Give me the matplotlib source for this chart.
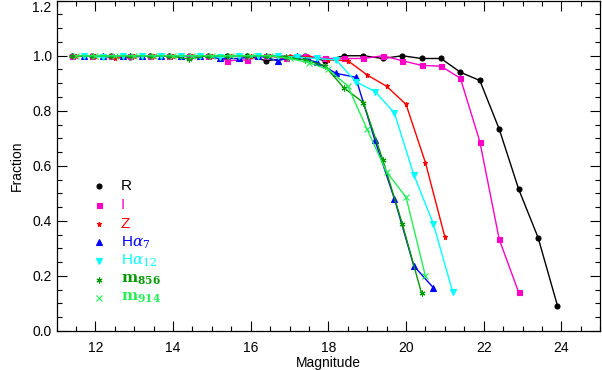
import matplotlib
matplotlib.use('Agg')
import matplotlib.pyplot as plt
from matplotlib.ticker import MultipleLocator, FormatStrFormatter

plt.rcParams['font.family'] = ['Liberation Sans', 'DejaVu Sans']
plt.rcParams['mathtext.fontset'] = 'dejavuserif'

# 数据
x_R = [11.4, 11.9, 12.4, 12.9, 13.4, 13.9, 14.4, 14.9, 15.4, 15.9, 16.4, 16.9, 17.4,
       17.9, 18.4, 18.9, 19.4, 19.9, 20.4, 20.9, 21.4, 21.9, 22.4, 22.9, 23.4, 23.9]
y_R = [1.0, 1.0, 1.0, 0.995, 1.0, 1.0, 1.0, 1.0, 1.0, 1.0, 0.982, 0.99, 1.0,
       0.982, 1.0, 1.0, 0.99, 1.0, 0.99, 0.99, 0.94, 0.91, 0.733, 0.515, 0.339, 0.091]

x_I = [11.4, 11.9, 12.4, 12.9, 13.4, 13.9, 14.4, 14.9, 15.4, 15.9, 16.4, 16.9, 17.4,
       17.9, 18.4, 18.9, 19.4, 19.9, 20.4, 20.9, 21.4, 21.9, 22.4, 22.9]
y_I = [1.0, 1.0, 1.0, 1.0, 1.0, 1.0, 1.0, 1.0, 0.982, 0.985, 1.0, 0.99, 1.0,
       0.99, 0.99, 0.99, 1.0, 0.982, 0.965, 0.962, 0.918, 0.688, 0.332, 0.140]

x_Z = [11.5, 12.0, 12.5, 13.0, 13.5, 14.0, 14.5, 15.0, 15.5, 16.0, 16.5, 17.0, 17.5,
       18.0, 18.5, 19.0, 19.5, 20.0, 20.5, 21.0]
y_Z = [1.0, 1.0, 0.99, 1.0, 1.0, 1.0, 1.0, 1.0, 1.0, 1.0, 1.0, 1.0, 0.995,
       0.985, 0.982, 0.93, 0.889, 0.823, 0.611, 0.341]

x_Ha7 = [11.7, 12.2, 12.7, 13.2, 13.7, 14.2, 14.7, 15.2, 15.7, 16.2, 16.7, 17.2, 17.7,
         18.2, 18.7, 19.2, 19.7, 20.2, 20.7]
y_Ha7 = [1.0, 1.0, 1.0, 1.0, 1.0, 1.0, 1.0, 0.99, 0.99, 1.0, 0.982, 1.0, 0.976,
         0.936, 0.922, 0.692, 0.480, 0.236, 0.157]

x_Ha12 = [11.7, 12.2, 12.7, 13.2, 13.7, 14.2, 14.7, 15.2, 15.7, 16.2, 16.7, 17.2, 17.7,
          18.2, 18.7, 19.2, 19.7, 20.2, 20.7, 21.2]
y_Ha12 = [1.0, 0.995, 1.0, 1.0, 1.0, 1.0, 1.0, 0.995, 1.0, 1.0, 1.0, 0.995, 0.99,
          0.985, 0.906, 0.870, 0.792, 0.567, 0.390, 0.142]

x_m856 = [11.4, 11.9, 12.4, 12.9, 13.4, 13.9, 14.4, 14.9, 15.4, 15.9, 16.4, 16.9, 17.4,
          17.9, 18.4, 18.9, 19.4, 19.9, 20.4]
y_m856 = [1.0, 1.0, 1.0, 1.0, 1.0, 1.0, 0.988, 1.0, 1.0, 1.0, 1.0, 0.995, 0.985,
          0.964, 0.883, 0.830, 0.622, 0.390, 0.136]

x_m914 = [11.5, 12.0, 12.5, 13.0, 13.5, 14.0, 14.5, 15.0, 15.5, 16.0, 16.5, 17.0, 17.5,
          18.0, 18.5, 19.0, 19.5, 20.0, 20.5]
y_m914 = [1.0, 1.0, 1.0, 1.0, 1.0, 1.0, 1.0, 1.0, 1.0, 1.0, 1.0, 0.99, 0.975,
          0.95, 0.89, 0.732, 0.577, 0.486, 0.198]

labels = ['R', 'I', 'Z', r'H$\alpha_{7}$', r'H$\alpha_{12}$',
          r'$\mathbf{m_{856}}$', r'$\mathbf{m_{914}}$']
colors = ['black', '#FF00C8', '#FF0000', '#0000FF', '#00FFFF', '#009900', '#22EE55']
markers = ['o', 's', '*', '^', 'v', (6, 2, 0), 'x']
msizes = [3.6, 3.6, 3.6, 3.8, 3.8, 4.2, 4.0]

xs = [x_R, x_I, x_Z, x_Ha7, x_Ha12, x_m856, x_m914]
ys = [y_R, y_I, y_Z, y_Ha7, y_Ha12, y_m856, y_m914]

fig = plt.figure(figsize=(6.02, 3.70), dpi=100)
ax = fig.add_axes([0.094, 0.106, 0.903, 0.892])

for x, y, c, m, s in zip(xs, ys, colors, markers, msizes):
    ax.plot(x, y, color=c, marker=m, markersize=s, linewidth=1.0,
            markeredgewidth=0.8)

# 图例 (手动放置)
for i, (lab, c, m, s) in enumerate(zip(labels, colors, markers, msizes)):
    yy = 0.4375 - i * 0.0565
    ax.plot([0.078], [yy], transform=ax.transAxes, color=c, marker=m,
            markersize=s, markeredgewidth=0.8, linestyle='none')
    ax.text(0.118, yy, lab, transform=ax.transAxes, color=c, fontsize=11,
            va='center', ha='left')

ax.set_xlim(11, 25)
ax.set_ylim(0, 1.2)
ax.xaxis.set_major_locator(MultipleLocator(2))
ax.xaxis.set_minor_locator(MultipleLocator(0.5))
ax.yaxis.set_major_locator(MultipleLocator(0.2))
ax.yaxis.set_minor_locator(MultipleLocator(0.05))
ax.yaxis.set_major_formatter(FormatStrFormatter('%.1f'))

ax.tick_params(which='both', direction='in', top=True, right=True, width=0.8,
               labelsize=10)
ax.tick_params(which='major', length=7)
ax.tick_params(which='minor', length=3.5)
ax.tick_params(axis='x', which='major', pad=7)
for sp in ax.spines.values():
    sp.set_linewidth(0.9)

ax.set_xlabel('Magnitude', fontsize=10, labelpad=1)
ax.set_ylabel('Fraction', fontsize=10, labelpad=6)

# 顶部 "1.2" 标签往下放, 避免被裁切
fig.canvas.draw()
for t in ax.yaxis.get_major_ticks():
    if abs(t.get_loc() - 1.2) < 1e-6:
        t.label1.set_verticalalignment('top')

fig.savefig('out.png', dpi=100)
